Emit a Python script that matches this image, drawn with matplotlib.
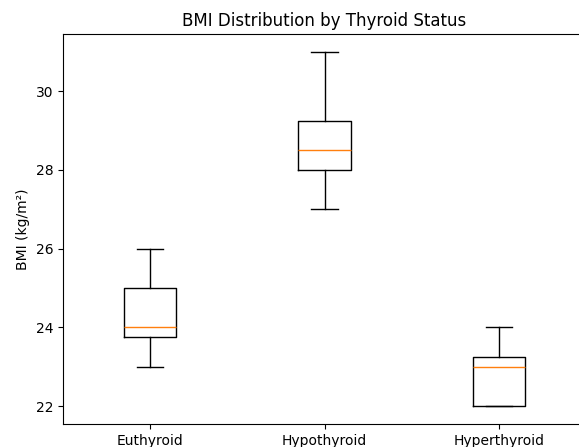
import matplotlib.pyplot as plt

# BMI values per thyroid group
groups = ['Euthyroid', 'Hypothyroid', 'Hyperthyroid']
euthyroid = [23, 23.75, 24, 25, 26]
hypothyroid = [27, 28, 28.5, 29.25, 31]
hyperthyroid = [22, 22, 23, 23.25, 24]

fig = plt.figure(figsize=(5.79, 4.47), dpi=100)
ax = fig.add_axes([0.1088, 0.0515, 0.9033, 0.8725])

ax.boxplot([euthyroid, hypothyroid, hyperthyroid], tick_labels=groups)
ax.set_title('BMI Distribution by Thyroid Status')
ax.set_ylabel('BMI (kg/m²)')

fig.savefig('out.png', dpi=100)
